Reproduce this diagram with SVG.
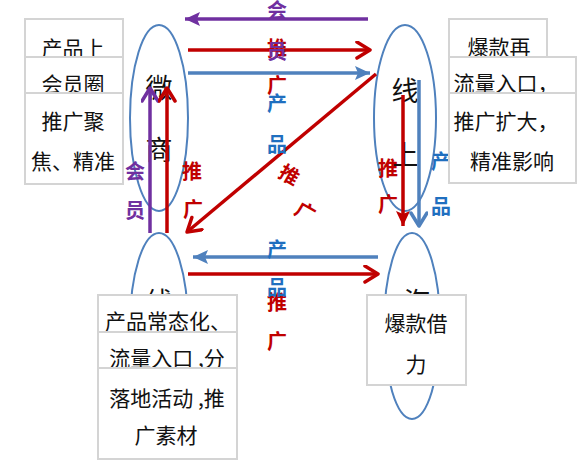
<svg xmlns="http://www.w3.org/2000/svg" width="586" height="468" viewBox="0 0 586 468">
<defs>
<style>
.ell{fill:none;stroke:#4F81BD;stroke-width:2}
.et{font-family:"Noto Sans CJK SC",sans-serif;font-size:27px;fill:#111;text-anchor:middle;dominant-baseline:central}
.box{fill:#fff;stroke:#D4D4D4;stroke-width:2}
.bt{font-family:"Noto Sans CJK SC",sans-serif;font-size:21px;fill:#111;text-anchor:middle;dominant-baseline:central}
.lb{font-family:"Noto Sans CJK SC",sans-serif;font-size:20px;font-weight:bold;text-anchor:middle;dominant-baseline:central}
.p{fill:#7030A0}.r{fill:#C00000}.b{fill:#1F6FBF}
.ln{fill:none;stroke-width:3.5}
.lp{stroke:#7030A0}.lr{stroke:#C00000}.lbl{stroke:#4F81BD}
</style>
<marker id="fp" markerUnits="userSpaceOnUse" markerWidth="18" markerHeight="16" refX="15" refY="7" orient="auto"><path d="M0,0 L15,7 L0,14 L3,7 z" fill="#7030A0"/></marker>
<marker id="fb" markerUnits="userSpaceOnUse" markerWidth="18" markerHeight="16" refX="15" refY="7" orient="auto"><path d="M0,0 L15,7 L0,14 L3,7 z" fill="#4F81BD"/></marker>
<marker id="fr" markerUnits="userSpaceOnUse" markerWidth="18" markerHeight="16" refX="15" refY="7" orient="auto"><path d="M0,0 L15,7 L0,14 L3,7 z" fill="#C00000"/></marker>
<marker id="or" markerUnits="userSpaceOnUse" markerWidth="20" markerHeight="20" refX="15" refY="9" orient="auto"><path d="M2,1 L15,9 L2,17" fill="none" stroke="#C00000" stroke-width="3.5" stroke-linecap="round" stroke-linejoin="round"/></marker>
<marker id="op" markerUnits="userSpaceOnUse" markerWidth="20" markerHeight="20" refX="15" refY="9" orient="auto"><path d="M2,1 L15,9 L2,17" fill="none" stroke="#7030A0" stroke-width="3.5" stroke-linecap="round" stroke-linejoin="round"/></marker>
<marker id="ob" markerUnits="userSpaceOnUse" markerWidth="20" markerHeight="20" refX="15" refY="9" orient="auto"><path d="M2,1 L15,9 L2,17" fill="none" stroke="#4F81BD" stroke-width="3.5" stroke-linecap="round" stroke-linejoin="round"/></marker>
</defs>
<rect width="586" height="468" fill="#fff"/>

<g id="node-weishang">
<ellipse class="ell" cx="159" cy="118" rx="29" ry="93"/>
<text class="et" x="159" y="86">微</text>
<text class="et" x="159" y="148">商</text>
</g>
<g id="node-xianshang">
<ellipse class="ell" cx="405" cy="118" rx="31" ry="93"/>
<text class="et" x="405" y="89">线</text>
<text class="et" x="405" y="153">上</text>
</g>
<g id="node-xianxia">
<ellipse class="ell" cx="159" cy="326" rx="29" ry="93"/>
<text class="et" x="159" y="300">线</text>
</g>
<g id="node-hai">
<ellipse class="ell" cx="412" cy="326" rx="28" ry="93"/>
<text class="et" x="417" y="300">海</text>
</g>

<g id="connectors">
<path class="ln lp" d="M368,19 L185,19" marker-end="url(#fp)"/>
<path class="ln lr" d="M188,50 L370,50" marker-end="url(#or)"/>
<path class="ln lbl" d="M188,73 L370,73" marker-end="url(#fb)"/>
<path class="ln lr" d="M376,74 L187,232" marker-end="url(#or)"/>
<path class="ln lp" d="M150,233 L150,88" marker-end="url(#op)"/>
<path class="ln lr" d="M167,233 L167,88" marker-end="url(#or)"/>
<path class="ln lr" d="M403,95 L403,226" marker-end="url(#fr)"/>
<path class="ln lbl" d="M419,80 L419,226" marker-end="url(#ob)"/>
<path class="ln lbl" d="M378,257 L193,257" marker-end="url(#fb)"/>
<path class="ln lr" d="M188,274 L378,274" marker-end="url(#or)"/>

<text class="lb p" x="277" y="9">会</text>
<text class="lb r" x="277" y="47">推</text>
<text class="lb p" x="277" y="50">员</text>
<text class="lb r" x="277" y="84">广</text>
<text class="lb b" x="277" y="102">产</text>
<text class="lb b" x="277" y="143">品</text>

<text class="lb p" x="135" y="170">会</text>
<text class="lb p" x="135" y="209">员</text>
<text class="lb r" x="192" y="170">推</text>
<text class="lb r" x="193" y="208">广</text>

<text class="lb r" transform="translate(290,174) rotate(30)">推</text>
<text class="lb r" transform="translate(306,211) rotate(30)">广</text>

<text class="lb r" x="388" y="167">推</text>
<text class="lb r" x="388" y="203">广</text>
<text class="lb b" x="441" y="160">产</text>
<text class="lb b" x="441" y="205">品</text>

<text class="lb b" x="277" y="248">产</text>
<text class="lb r" x="277" y="301">推</text>
<text class="lb b" x="277" y="286">品</text>
<text class="lb r" x="277" y="340">广</text>
</g>

<g id="box-left">
<rect class="box" x="25" y="19" width="98" height="60"/>
<text class="bt" x="73" y="47">产品上</text>
<rect class="box" x="25" y="57" width="98" height="60"/>
<text class="bt" x="73" y="83">会员圈</text>
<rect class="box" x="25" y="93" width="98" height="91"/>
<text class="bt" x="73" y="120">推广聚</text>
<text class="bt" x="73" y="160">焦、精准</text>
</g>
<g id="box-right">
<rect class="box" x="449" y="19" width="98" height="60"/>
<text class="bt" x="499" y="46">爆款再</text>
<rect class="box" x="449" y="57" width="127" height="60"/>
<text class="bt" x="506" y="82">流量入口，</text>
<rect class="box" x="449" y="93" width="127" height="90"/>
<text class="bt" x="506" y="120">推广扩大，</text>
<text class="bt" x="512" y="160">精准影响</text>
</g>
<g id="box-bottom-left">
<rect class="box" x="98" y="295" width="139" height="60"/>
<text class="bt" x="168" y="320">产品常态化、</text>
<rect class="box" x="98" y="332" width="139" height="60"/>
<text class="bt" x="167" y="357">流量入口 ,分</text>
<rect class="box" x="98" y="368" width="139" height="91"/>
<text class="bt" x="167" y="397">落地活动 ,推</text>
<text class="bt" x="166" y="434">广素材</text>
</g>
<g id="box-bottom-right">
<rect class="box" x="367" y="295" width="99" height="90"/>
<text class="bt" x="416" y="322">爆款借</text>
<text class="bt" x="416" y="363">力</text>
</g>
</svg>
